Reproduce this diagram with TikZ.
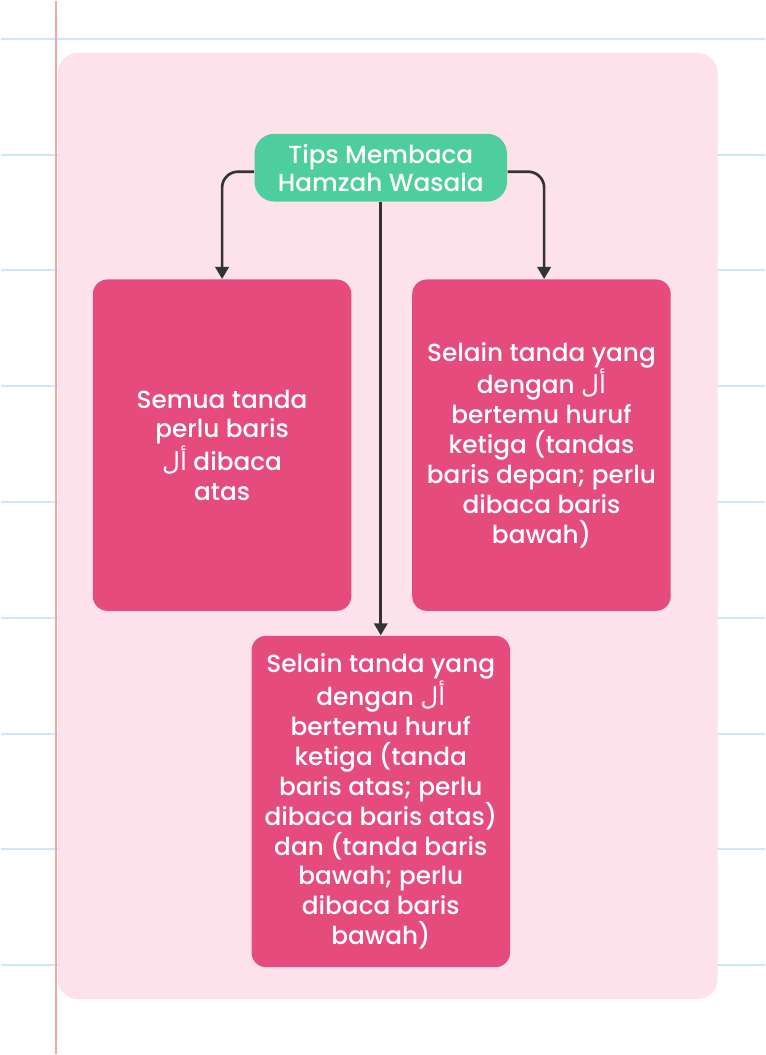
\documentclass[tikz,border=0pt]{standalone}
\usepackage{fontspec}
\setmainfont{Poppins}[UprightFont=* Medium]
\newfontfamily\arabicfont[Script=Arabic]{DejaVu Sans}
\TeXXeTstate=1
\usetikzlibrary{arrows.meta}
\newcommand{\alwasl}{{\arabicfont\beginR أل\endR}}

\definecolor{pagerule}{RGB}{205,232,248}
\definecolor{marginred}{RGB}{246,165,165}
\definecolor{panelpink}{RGB}{253,226,235}
\definecolor{tipgreen}{RGB}{78,205,158}
\definecolor{tippink}{RGB}{229,76,125}
\definecolor{arrowgray}{RGB}{51,51,51}

\tikzset{every picture/.style={line width=0.75pt}}
\tikzset{
  titlebox/.style={fill=tipgreen, rounded corners=15pt, text=white, align=center,
    minimum width=189.75pt, minimum height=51pt, inner sep=0pt,
    font=\fontsize{18.6pt}{21pt}\selectfont},
  tipsbox/.style={fill=tippink, rounded corners=11pt, text=white, align=center,
    minimum width=194.25pt, minimum height=249pt, inner sep=0pt,
    font=\fontsize{18.6pt}{22.5pt}\selectfont},
  arrowline/.style={draw=arrowgray, line width=2pt, rounded corners=12pt,
    -{Triangle[width=10pt,length=9pt]}}
}

\begin{document}
\begin{tikzpicture}[x=0.75pt,y=0.75pt,yscale=-1,xscale=1]
        %set diagram size to the page
        \fill[white] (0,0) rectangle (765,1055);

        %Ruled lines of the page
        \foreach \y in {38,154,270,386,502,618,734,850,966}
          \draw[pagerule, line width=1.5pt] (0,\y) -- (765,\y);
        %Margin line
        \draw[marginred, line width=1.5pt] (55,0) -- (55,1055);
        %Shape: Panel
        \fill[panelpink, rounded corners=15pt] (57,52) rectangle (718,1000);

        % Title Node
        \node[titlebox] (tips) at (380.5,167) {Tips Membaca\\Hamzah Wasala};
        % Text Node
        \node[tipsbox] (atas) at (221.5,445) {Semua tanda\\perlu baris\\\alwasl{} dibaca\\atas};
        % Text Node
        \node[tipsbox] (depan) at (541.5,445) {Selain tanda yang\\dengan \alwasl\hspace{1.6em}\\bertemu huruf\\ketiga (tandas\\baris depan; perlu\\dibaca baris\\bawah)};
        % Text Node
        \node[tipsbox] (bawah) at (380.5,802) {Selain tanda yang\\dengan \alwasl\hspace{1.6em}\\bertemu huruf\\ketiga (tanda\\baris atas; perlu\\dibaca baris atas)\\dan (tanda baris\\bawah; perlu\\dibaca baris\\bawah)};

        %Connectors
        \draw[arrowline] ([yshift=3pt]tips.west) -| (atas.north);
        \draw[arrowline] ([yshift=3pt]tips.east) -| ([xshift=2pt]depan.north);
        \draw[arrowline] (tips.south) -- (bawah.north);

\end{tikzpicture}
\end{document}
